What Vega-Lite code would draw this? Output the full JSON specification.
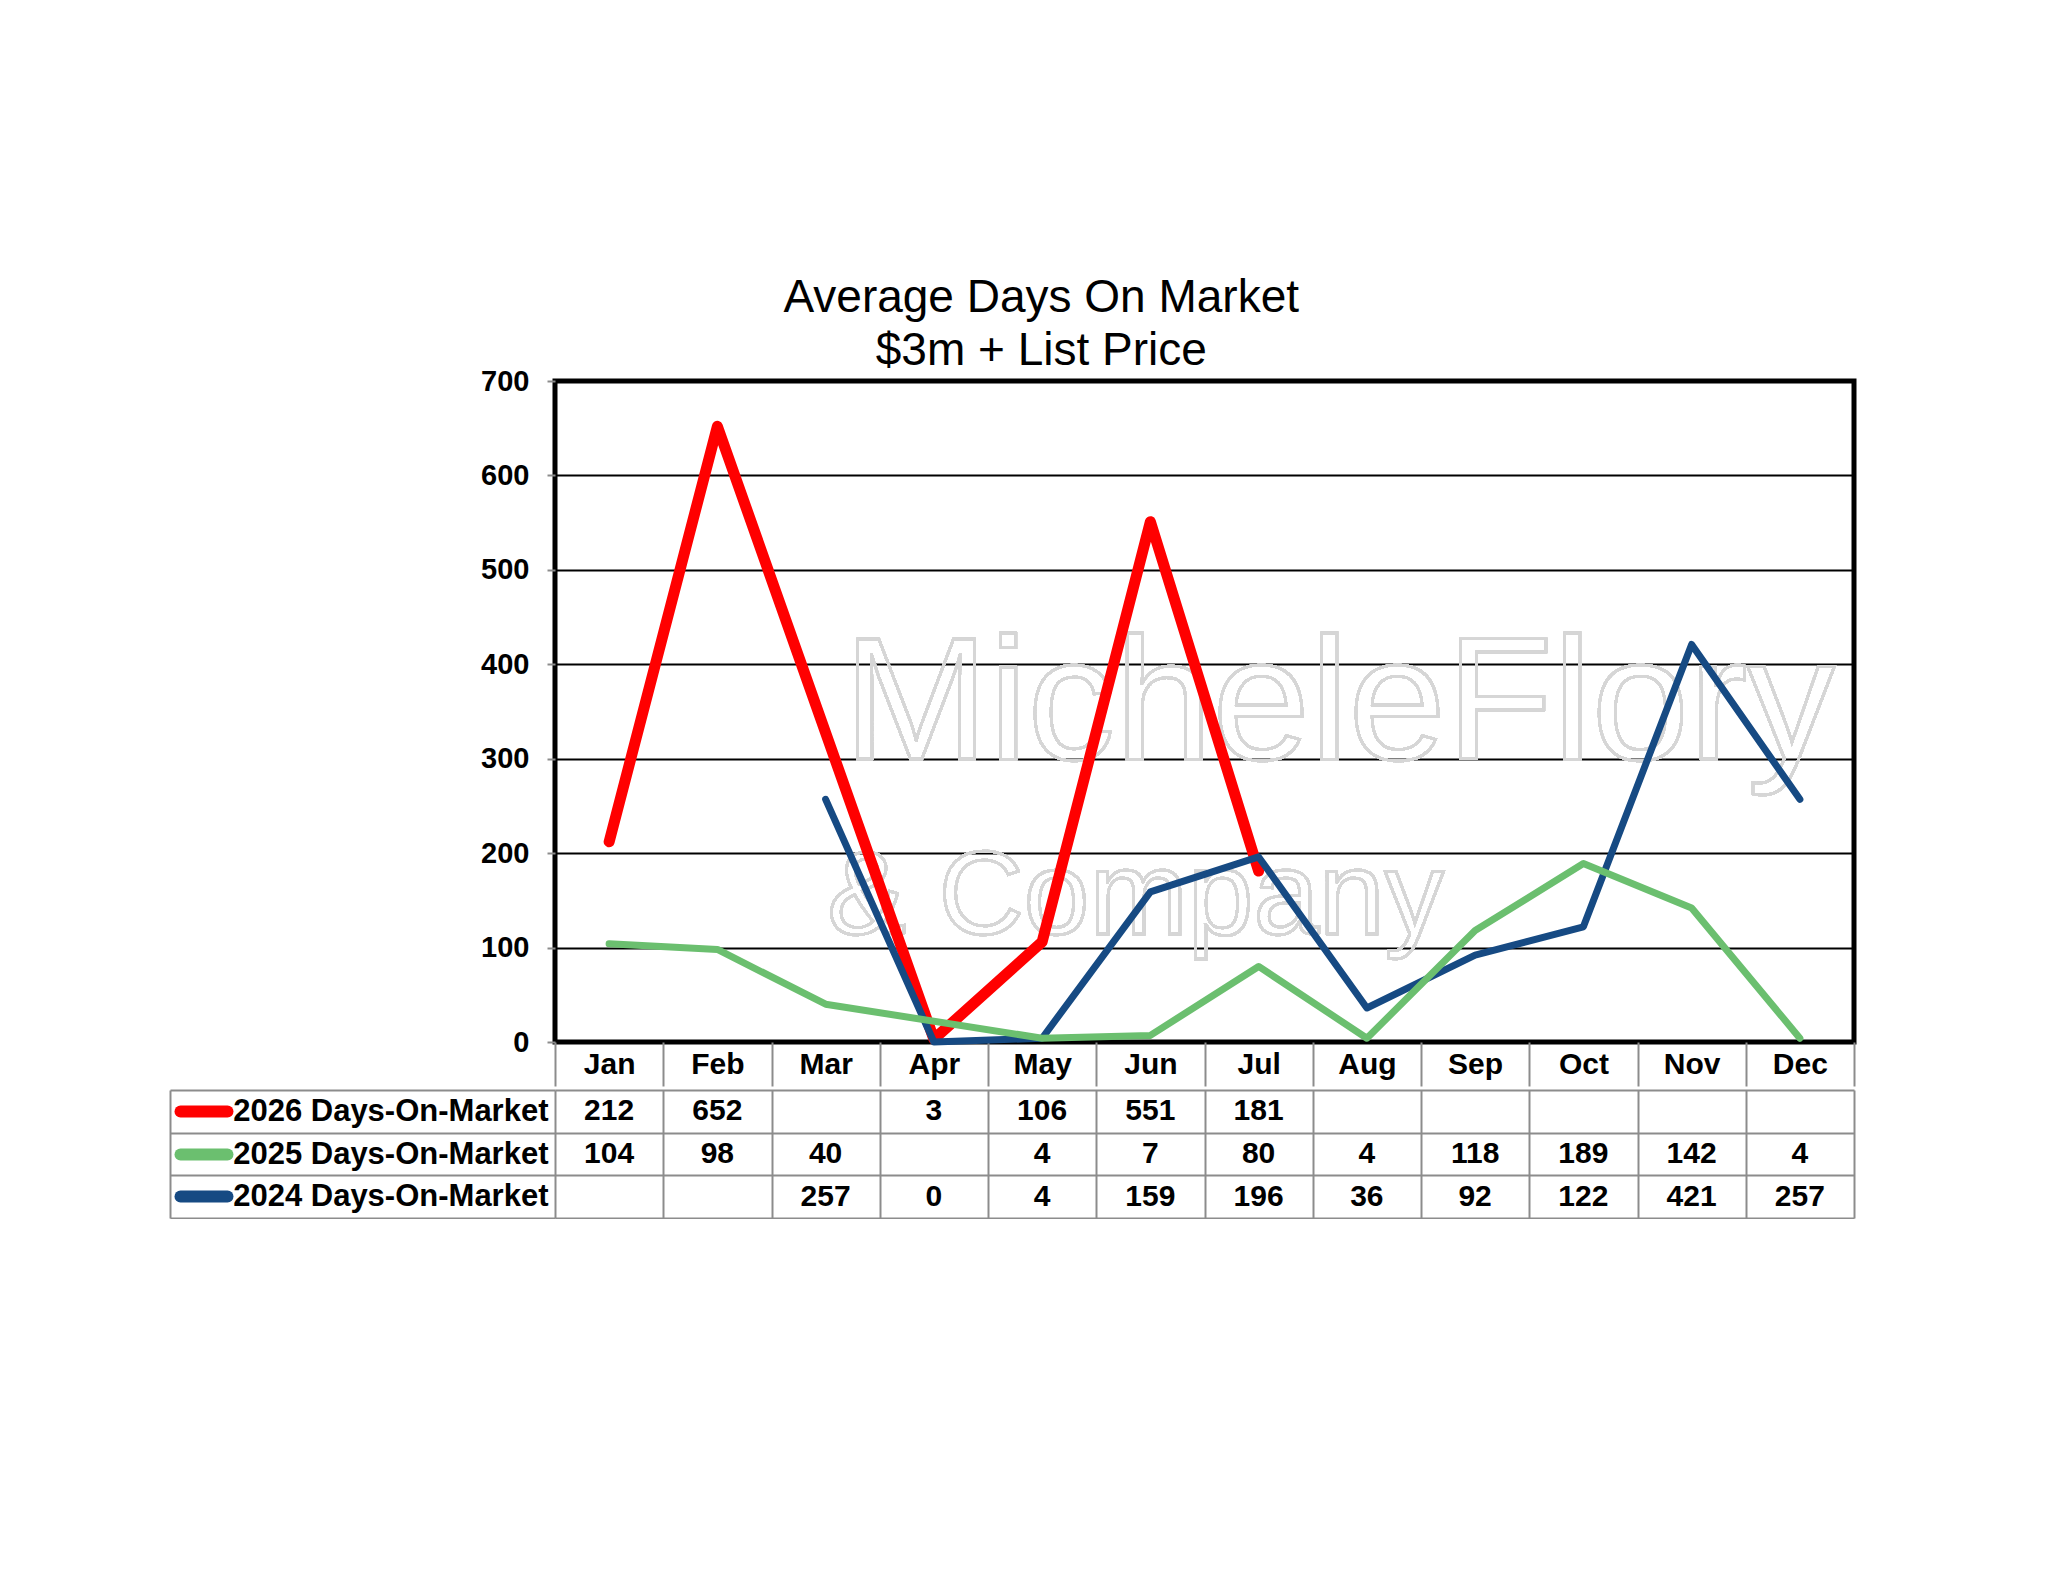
{
  "$schema": "https://vega.github.io/schema/vega-lite/v6.json",
  "background": "white",
  "padding": {"left": 169, "top": 274, "right": 0, "bottom": 0},
  "title": {
    "text": ["Average Days On Market", "$3m + List Price"],
    "font": "Liberation Sans",
    "fontSize": 46,
    "fontWeight": "normal",
    "color": "black",
    "anchor": "middle",
    "lineHeight": 53,
    "offset": -10,
    "dx": 28
  },
  "datasets": {
    "dom": [
      {"month": "Jan", "series": "2026 Days-On-Market", "value": 212},
      {"month": "Feb", "series": "2026 Days-On-Market", "value": 652},
      {"month": "Apr", "series": "2026 Days-On-Market", "value": 3},
      {"month": "May", "series": "2026 Days-On-Market", "value": 106},
      {"month": "Jun", "series": "2026 Days-On-Market", "value": 551},
      {"month": "Jul", "series": "2026 Days-On-Market", "value": 181},
      {"month": "Jan", "series": "2025 Days-On-Market", "value": 104},
      {"month": "Feb", "series": "2025 Days-On-Market", "value": 98},
      {"month": "Mar", "series": "2025 Days-On-Market", "value": 40},
      {"month": "May", "series": "2025 Days-On-Market", "value": 4},
      {"month": "Jun", "series": "2025 Days-On-Market", "value": 7},
      {"month": "Jul", "series": "2025 Days-On-Market", "value": 80},
      {"month": "Aug", "series": "2025 Days-On-Market", "value": 4},
      {"month": "Sep", "series": "2025 Days-On-Market", "value": 118},
      {"month": "Oct", "series": "2025 Days-On-Market", "value": 189},
      {"month": "Nov", "series": "2025 Days-On-Market", "value": 142},
      {"month": "Dec", "series": "2025 Days-On-Market", "value": 4},
      {"month": "Mar", "series": "2024 Days-On-Market", "value": 257},
      {"month": "Apr", "series": "2024 Days-On-Market", "value": 0},
      {"month": "May", "series": "2024 Days-On-Market", "value": 4},
      {"month": "Jun", "series": "2024 Days-On-Market", "value": 159},
      {"month": "Jul", "series": "2024 Days-On-Market", "value": 196},
      {"month": "Aug", "series": "2024 Days-On-Market", "value": 36},
      {"month": "Sep", "series": "2024 Days-On-Market", "value": 92},
      {"month": "Oct", "series": "2024 Days-On-Market", "value": 122},
      {"month": "Nov", "series": "2024 Days-On-Market", "value": 421},
      {"month": "Dec", "series": "2024 Days-On-Market", "value": 257}
    ]
  },
  "data": {"name": "dom"},
  "spacing": -20,
  "vconcat": [
    {
      "width": 1299,
      "height": 661,
      "view": {"stroke": "black", "strokeWidth": 5},
      "encoding": {
        "x": {
          "field": "month",
          "type": "ordinal",
          "scale": {
            "type": "band",
            "domain": ["Jan", "Feb", "Mar", "Apr", "May", "Jun", "Jul", "Aug", "Sep", "Oct", "Nov", "Dec"],
            "paddingInner": 0,
            "paddingOuter": 0
          },
          "axis": {
            "title": null,
            "orient": "bottom",
            "domain": false,
            "grid": false,
            "tickBand": "extent",
            "tickSize": 44,
            "tickColor": "#8c8c8c",
            "tickWidth": 2,
            "minExtent": 44,
            "maxExtent": 44,
            "labelAngle": 0,
            "labelFont": "Liberation Sans",
            "labelFontWeight": "bold",
            "labelFontSize": 30,
            "labelColor": "black",
            "labelBaseline": "middle",
            "labelPadding": -22
          }
        },
        "y": {
          "field": "value",
          "type": "quantitative",
          "scale": {"domain": [0, 700], "nice": false},
          "axis": {
            "title": null,
            "values": [0, 100, 200, 300, 400, 500, 600, 700],
            "grid": true,
            "gridColor": "black",
            "gridWidth": 2,
            "domain": false,
            "tickSize": 8,
            "tickColor": "#8c8c8c",
            "tickWidth": 2,
            "labelPadding": 18,
            "labelFont": "Liberation Sans",
            "labelFontWeight": "bold",
            "labelFontSize": 29,
            "labelColor": "black"
          }
        }
      },
      "layer": [
        {
          "mark": {
            "type": "text",
            "text": "MicheleFlory",
            "font": "Liberation Sans",
            "fontSize": 175,
            "align": "center",
            "baseline": "alphabetic",
            "fill": "white",
            "fillOpacity": 0,
            "stroke": "#d6d6d6",
            "strokeWidth": 2.5,
            "dx": -28
          },
          "encoding": {"x": {"datum": "Aug"}, "y": {"datum": 300}}
        },
        {
          "mark": {
            "type": "text",
            "text": "& Company",
            "font": "Liberation Sans",
            "fontSize": 118,
            "align": "center",
            "baseline": "alphabetic",
            "fill": "white",
            "fillOpacity": 0,
            "stroke": "#d6d6d6",
            "strokeWidth": 2.5,
            "dx": -15
          },
          "encoding": {"x": {"datum": "Jun"}, "y": {"datum": 114}}
        },
        {
          "transform": [{"filter": "datum.series === '2026 Days-On-Market'"}],
          "mark": {"type": "line", "color": "#FF0000", "strokeWidth": 11, "strokeCap": "round", "strokeJoin": "round"}
        },
        {
          "transform": [{"filter": "datum.series === '2024 Days-On-Market'"}],
          "mark": {"type": "line", "color": "#164A83", "strokeWidth": 7, "strokeCap": "round", "strokeJoin": "round"}
        },
        {
          "transform": [{"filter": "datum.series === '2025 Days-On-Market'"}],
          "mark": {"type": "line", "color": "#6BBF6F", "strokeWidth": 7, "strokeCap": "round", "strokeJoin": "round"}
        }
      ]
    },
    {
      "width": 1299,
      "height": 128,
      "view": {"stroke": null},
      "resolve": {"axis": {"y": "independent"}},
      "layer": [
        {
          "mark": {
            "type": "text",
            "font": "Liberation Sans",
            "fontWeight": "bold",
            "fontSize": 30,
            "color": "black",
            "baseline": "middle"
          },
          "encoding": {
            "x": {
              "field": "month",
              "type": "ordinal",
              "scale": {
                "type": "band",
                "domain": ["Jan", "Feb", "Mar", "Apr", "May", "Jun", "Jul", "Aug", "Sep", "Oct", "Nov", "Dec"],
                "paddingInner": 0,
                "paddingOuter": 0
              },
              "axis": {
                "title": null,
                "orient": "top",
                "labels": false,
                "ticks": false,
                "domain": false,
                "minExtent": 0,
                "maxExtent": 0,
                "grid": true,
                "tickBand": "extent",
                "gridColor": "#8c8c8c",
                "gridWidth": 2
              }
            },
            "y": {
              "field": "series",
              "type": "nominal",
              "scale": {
                "type": "band",
                "domain": ["2026 Days-On-Market", "2025 Days-On-Market", "2024 Days-On-Market"],
                "paddingInner": 0,
                "paddingOuter": 0
              },
              "axis": {
                "title": null,
                "orient": "left",
                "domain": false,
                "grid": true,
                "gridColor": "#8c8c8c",
                "gridWidth": 2,
                "tickBand": "extent",
                "tickSize": 385,
                "tickColor": "#8c8c8c",
                "tickWidth": 2,
                "labelPadding": -378,
                "labelAlign": "right",
                "labelLimit": 420,
                "labelFont": "Liberation Sans",
                "labelFontWeight": "bold",
                "labelFontSize": 31,
                "labelColor": "black"
              }
            },
            "text": {"field": "value", "type": "quantitative"}
          }
        },
        {
          "mark": {"type": "text", "opacity": 0},
          "encoding": {
            "y": {
              "field": "series",
              "type": "nominal",
              "axis": {
                "title": null,
                "orient": "left",
                "offset": 328,
                "domain": false,
                "grid": false,
                "labels": false,
                "ticks": true,
                "tickSize": 47,
                "tickWidth": 12,
                "tickCap": "round",
                "tickColor": {
                  "condition": [
                    {"test": "datum.value === '2026 Days-On-Market'", "value": "#FF0000"},
                    {"test": "datum.value === '2025 Days-On-Market'", "value": "#6BBF6F"}
                  ],
                  "value": "#164A83"
                }
              }
            }
          }
        },
        {
          "mark": {"type": "text", "opacity": 0},
          "encoding": {
            "y": {
              "field": "series",
              "type": "nominal",
              "axis": {
                "title": null,
                "orient": "left",
                "offset": 385,
                "domain": true,
                "domainColor": "#8c8c8c",
                "domainWidth": 2,
                "grid": false,
                "labels": false,
                "ticks": false
              }
            }
          }
        }
      ]
    }
  ]
}
